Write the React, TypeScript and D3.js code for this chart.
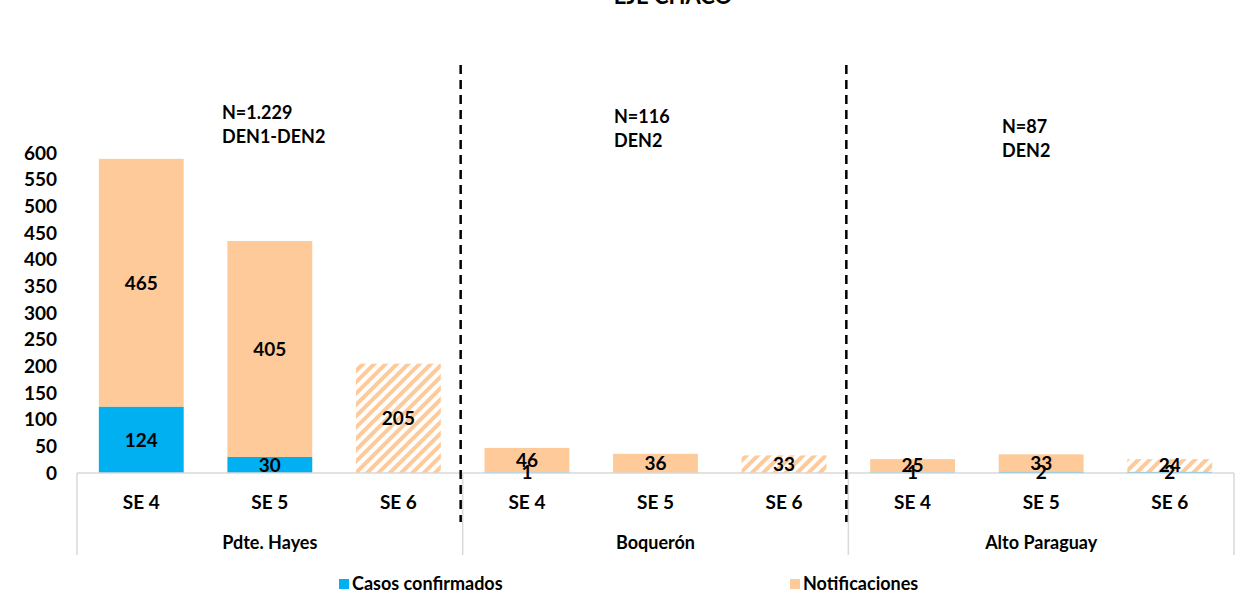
import * as d3 from "d3";

const departamentos = ["Pdte. Hayes", "Boquerón", "Alto Paraguay"];
const semanas = ["SE 4", "SE 5", "SE 6"];
// values per departamento, in semana order
const confirmados = [
  [124, 30, 0],
  [1, 0, 0],
  [1, 2, 2],
];
const notificaciones = [
  [465, 405, 205],
  [46, 36, 33],
  [25, 33, 24],
];
const notas = [
  ["N=1.229", "DEN1-DEN2"],
  ["N=116", "DEN2"],
  ["N=87", "DEN2"],
];
const yTicks = [0, 50, 100, 150, 200, 250, 300, 350, 400, 450, 500, 550, 600];
const semanaParcial = "SE 6";

const W = 1254;
const H = 606;
const FONT = "Lato, 'Open Sans', sans-serif";
const BLUE = "#00B0F0";
const ORANGE = "#FFCA99";

export default function App() {
  const y = d3.scaleLinear().domain([0, 600]).range([473, 153]);
  const xGroup = d3.scaleBand().domain(departamentos).range([77, 1234]).padding(0);
  const xWeek = d3
    .scaleBand()
    .domain(semanas)
    .range([0, xGroup.bandwidth()])
    .paddingInner(0.34)
    .paddingOuter(0.17);

  const rows = departamentos.flatMap((dep, i) =>
    semanas.map((se, j) => ({
      dep,
      se,
      conf: confirmados[i][j],
      notif: notificaciones[i][j],
    }))
  );

  const notaPos = [
    { x: 222, y: 113 },
    { x: 614, y: 117 },
    { x: 1002, y: 127 },
  ];

  return (
    <div style={{ position: "absolute", left: 0, top: 0 }}>
      <svg width={W} height={H} style={{ display: "block", background: "#fff" }} fontFamily={FONT}>
        <defs>
          <pattern
            id="hatch"
            patternUnits="userSpaceOnUse"
            width={8}
            height={8}
            patternTransform="rotate(45)"
          >
            <rect width={8} height={8} fill="#fff" />
            <rect width={4} height={8} fill={ORANGE} />
          </pattern>
        </defs>

        <text x={673} y={4} textAnchor="middle" fontWeight="bold" fontSize={22}>
          EJE CHACO
        </text>

        {/* y axis labels */}
        {yTicks.map((t) => (
          <text
            key={t}
            x={57}
            y={y(t)}
            dy="0.35em"
            textAnchor="end"
            fontWeight="bold"
            fontSize={19}
          >
            {t}
          </text>
        ))}

        {/* bars */}
        {rows.map((r) => {
          const x0 = (xGroup(r.dep) || 0) + (xWeek(r.se) || 0);
          const bw = xWeek.bandwidth();
          const top = r.conf + r.notif;
          const parcial = r.se === semanaParcial;
          return (
            <g key={r.dep + r.se}>
              <rect
                x={x0}
                y={y(top)}
                width={bw}
                height={y(r.conf) - y(top)}
                fill={parcial ? "url(#hatch)" : ORANGE}
              />
              {r.conf > 0 && (
                <rect x={x0} y={y(r.conf)} width={bw} height={y(0) - y(r.conf)} fill={BLUE} />
              )}
            </g>
          );
        })}

        {/* axis box */}
        <g stroke="#d9d9d9" strokeWidth={1.5}>
          <line x1={77} x2={1234} y1={473} y2={473} />
          {departamentos.map((d) => (
            <line key={d} x1={xGroup(d)} x2={xGroup(d)} y1={473} y2={555} />
          ))}
          <line x1={1234} x2={1234} y1={473} y2={555} />
        </g>

        {/* data labels */}
        {rows.map((r) => {
          const cx = (xGroup(r.dep) || 0) + (xWeek(r.se) || 0) + xWeek.bandwidth() / 2;
          const top = r.conf + r.notif;
          return (
            <g key={"l" + r.dep + r.se} fontWeight="bold" fontSize={19} textAnchor="middle">
              <text x={cx} y={y((r.conf + top) / 2)} dy="0.35em">
                {r.notif}
              </text>
              {r.conf > 0 && (
                <text x={cx} y={y(r.conf / 2)} dy="0.35em">
                  {r.conf}
                </text>
              )}
            </g>
          );
        })}

        {/* category labels */}
        {rows.map((r) => (
          <text
            key={"c" + r.dep + r.se}
            x={(xGroup(r.dep) || 0) + (xWeek(r.se) || 0) + xWeek.bandwidth() / 2}
            y={502}
            dy="0.35em"
            textAnchor="middle"
            fontWeight="bold"
            fontSize={19}
          >
            {r.se}
          </text>
        ))}
        {departamentos.map((d) => (
          <text
            key={"g" + d}
            x={(xGroup(d) || 0) + xGroup.bandwidth() / 2}
            y={543}
            dy="0.35em"
            textAnchor="middle"
            fontWeight="bold"
            fontSize={18}
          >
            {d}
          </text>
        ))}

        {/* dashed separators */}
        {departamentos.slice(1).map((d) => (
          <line
            key={"s" + d}
            x1={(xGroup(d) || 0) - 2}
            x2={(xGroup(d) || 0) - 2}
            y1={65}
            y2={522}
            stroke="#000"
            strokeWidth={2.5}
            strokeDasharray="9 6"
          />
        ))}

        {/* annotations */}
        {notas.map((n, i) => (
          <text key={"n" + i} x={notaPos[i].x} fontWeight="bold" fontSize={18}>
            <tspan x={notaPos[i].x} y={notaPos[i].y} dy="0.35em">
              {n[0]}
            </tspan>
            <tspan x={notaPos[i].x} y={notaPos[i].y + 24} dy="0.35em">
              {n[1]}
            </tspan>
          </text>
        ))}

        {/* legend */}
        <g fontWeight="bold" fontSize={18}>
          <rect x={339} y={579} width={10} height={10} fill={BLUE} />
          <text x={352} y={584} dy="0.35em">
            Casos confirmados
          </text>
          <rect x={790} y={579} width={10} height={10} fill={ORANGE} />
          <text x={803} y={584} dy="0.35em">
            Notificaciones
          </text>
        </g>
      </svg>
    </div>
  );
}
